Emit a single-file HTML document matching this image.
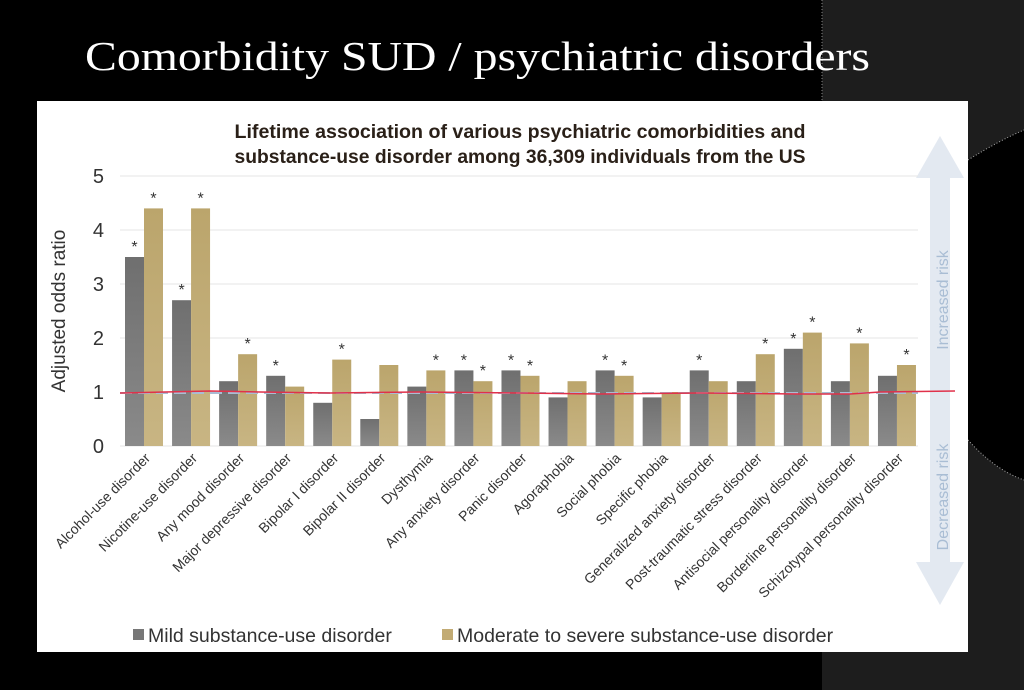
<!DOCTYPE html>
<html><head><meta charset="utf-8"><style>
html,body{margin:0;padding:0;background:#000;}
svg{display:block;}
</style></head><body>
<svg width="1024" height="690" viewBox="0 0 1024 690" xmlns="http://www.w3.org/2000/svg" font-family="Liberation Sans, sans-serif">
<defs>
<linearGradient id="gr" x1="0" y1="0" x2="0" y2="1"><stop offset="0" stop-color="#6f6f6f"/><stop offset="1" stop-color="#8a8a8a"/></linearGradient>
<linearGradient id="gd" x1="0" y1="0" x2="0" y2="1"><stop offset="0" stop-color="#bba56c"/><stop offset="1" stop-color="#c8b583"/></linearGradient>
</defs>
<rect width="1024" height="690" fill="#000"/>
<rect x="822" y="0" width="202" height="690" fill="#1d1d1d"/>
<line x1="822" y1="0" x2="822" y2="100" stroke="#888" stroke-dasharray="1,2"/>
<path d="M968 160 Q1000 140 1024 130 L1024 480 Q995 470 968 440 Z" fill="#000"/>
<path d="M968 160 Q1000 140 1024 130" stroke="#aaa" stroke-dasharray="1,2" fill="none"/>
<path d="M968 440 Q995 470 1024 480" stroke="#aaa" stroke-dasharray="1,2" fill="none"/>
<text x="85" y="70" font-family="Liberation Serif, serif" font-size="41" fill="#fff" textLength="785" lengthAdjust="spacingAndGlyphs">Comorbidity SUD / psychiatric disorders</text>
<rect x="37" y="101" width="931" height="551" fill="#fff"/>
<text x="520" y="138" font-size="19" font-weight="bold" fill="#2a2018" text-anchor="middle" textLength="571" lengthAdjust="spacingAndGlyphs">Lifetime association of various psychiatric comorbidities and</text>
<text x="520" y="163" font-size="19" font-weight="bold" fill="#2a2018" text-anchor="middle" textLength="571" lengthAdjust="spacingAndGlyphs">substance-use disorder among 36,309 individuals from the US</text>
<!-- arrow -->
<path d="M940 136 L964 178 L950 178 L950 562 L964 562 L940 605 L916 562 L930 562 L930 178 L916 178 Z" fill="#e3e9f1"/>
<text transform="translate(948,300) rotate(-90)" font-size="16" fill="#a9bdd4" text-anchor="middle">Increased risk</text>
<text transform="translate(948,497) rotate(-90)" font-size="16" fill="#a9bdd4" text-anchor="middle">Decreased risk</text>
<!-- grid -->
<g stroke="#e6e6e6" stroke-width="1">
<line x1="120" y1="176" x2="918" y2="176"/><line x1="120" y1="230" x2="918" y2="230"/>
<line x1="120" y1="284" x2="918" y2="284"/><line x1="120" y1="338" x2="918" y2="338"/>
<line x1="120" y1="446" x2="918" y2="446"/>
</g>
<g font-size="20" fill="#333" text-anchor="end">
<text x="104" y="183">5</text><text x="104" y="237">4</text><text x="104" y="291">3</text>
<text x="104" y="345">2</text><text x="104" y="399">1</text><text x="104" y="453">0</text>
</g>
<text transform="translate(65,311) rotate(-90)" font-size="19" fill="#333" text-anchor="middle">Adjusted odds ratio</text>
<g id="bars"></g>
<line x1="120" y1="393" x2="918" y2="393" stroke="#a9bdd4" stroke-width="2" stroke-dasharray="12,6"/>
<path d="M120 393 L165 392 L210 391 L260 392 L330 393 L420 392 L520 393 L600 394 L700 393 L800 394 L850 394 L880 392 L955 391" stroke="#e0314a" stroke-width="1.5" fill="none"/>
<g font-size="14" fill="#333" text-anchor="end" id="labels"></g>
<rect x="133" y="629" width="11" height="11" fill="#777"/>
<text x="148" y="642" font-size="19.5" fill="#333">Mild substance-use disorder</text>
<rect x="442" y="629" width="11" height="11" fill="#c2ab74"/>
<text x="457" y="642" font-size="19.5" fill="#333">Moderate to severe substance-use disorder</text>
<script>
var d=[["Alcohol-use disorder",3.5,1,4.4,1],["Nicotine-use disorder",2.7,1,4.4,1],["Any mood disorder",1.2,0,1.7,1],["Major depressive disorder",1.3,1,1.1,0],["Bipolar I disorder",0.8,0,1.6,1],["Bipolar II disorder",0.5,0,1.5,0],["Dysthymia",1.1,0,1.4,1],["Any anxiety disorder",1.4,1,1.2,1],["Panic disorder",1.4,1,1.3,1],["Agoraphobia",0.9,0,1.2,0],["Social phobia",1.4,1,1.3,1],["Specific phobia",0.9,0,1.0,0],["Generalized anxiety disorder",1.4,1,1.2,0],["Post-traumatic stress disorder",1.2,0,1.7,1],["Antisocial personality disorder",1.8,1,2.1,1],["Borderline personality disorder",1.2,0,1.9,1],["Schizotypal personality disorder",1.3,0,1.5,1]];
var ns="http://www.w3.org/2000/svg",b=document.getElementById("bars"),l=document.getElementById("labels");
function el(t,a,p,tx){var e=document.createElementNS(ns,t);for(var k in a)e.setAttribute(k,a[k]);if(tx)e.textContent=tx;p.appendChild(e);}
d.forEach(function(r,i){var x=125+i*47.06;
[[r[1],r[2],"url(#gr)",x],[r[3],r[4],"url(#gd)",x+19]].forEach(function(s){var h=s[0]*54;
el("rect",{x:s[3],y:446-h,width:19,height:h,fill:s[2]},b);
if(s[1])el("text",{x:s[3]+9.5,y:446-h-5,"font-size":16,fill:"#333","text-anchor":"middle"},b,"*");});
el("text",{transform:"translate("+(x+26)+",459) rotate(-45)"},l,r[0]);});
</script>
</svg>
</body></html>
